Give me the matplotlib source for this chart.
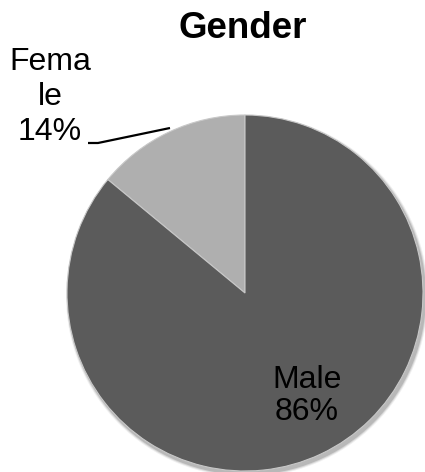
import numpy as np
import matplotlib.pyplot as plt

# data
labels = ['Female', 'Male']
shares = [14, 86]
label_text = ['Fema\nle\n14%', 'Male\n86%']
colors = ['#afafaf', '#5b5b5b']

plt.rcParams['font.family'] = ['Liberation Sans', 'DejaVu Sans']

fig = plt.figure(figsize=(4.25, 4.72), dpi=100)
ax = fig.add_axes([0, 0, 1, 1])

cx, cy, r = 245, 179, 178

# soft shadow under the pie
for k, a in zip([3, 2, 1], [0.06, 0.10, 0.14]):
    ax.pie([1], colors=['#000000'], radius=r + k, center=(cx + 2, cy - 3),
           wedgeprops=dict(alpha=a, linewidth=0), frame=True)

wedges, _ = ax.pie(shares, colors=colors, startangle=90, counterclock=True,
                   radius=r, center=(cx, cy), frame=True,
                   wedgeprops=dict(edgecolor='#c8c8c8', linewidth=0.8))

ax.set_xlim(0, 425)
ax.set_ylim(0, 472)
ax.set_aspect('equal')
ax.axis('off')

ax.text(243, 443, 'Gender', ha='center', va='center', fontsize=26.5,
        fontweight='bold')

# Male label inside
ax.text(307, 76, label_text[1], ha='center', va='center', fontsize=23,
        linespacing=1.12)

# Female label outside with leader line
ax.text(50, 375, label_text[0], ha='center', va='center', fontsize=23,
        linespacing=1.2)
ax.plot([88, 98, 170], [329, 329, 344], color='black', linewidth=1.6,
        solid_capstyle='butt')

fig.savefig('out.png', dpi=100)
